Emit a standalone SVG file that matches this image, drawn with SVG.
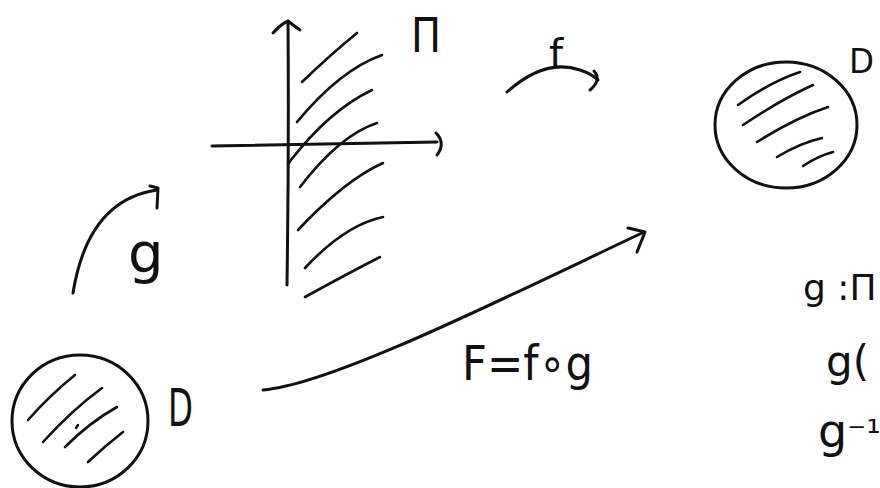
<svg xmlns="http://www.w3.org/2000/svg" width="880" height="488" viewBox="0 0 880 488">
<style>
.ink{fill:none;stroke:#111;stroke-width:3;stroke-linecap:round;stroke-linejoin:round}
.hatch{fill:none;stroke:#111;stroke-width:2.6;stroke-linecap:round}
.lbl{font-family:"DejaVu Sans","Liberation Sans",sans-serif;fill:#111}
</style>
<rect width="880" height="488" fill="#fff"/>
<g id="plane">
  <path class="ink" d="M288,22 Q289,150 287,285"/>
  <path class="ink" d="M273,33 Q281,24 288,21 Q294,26 300,30"/>
  <path class="ink" d="M212,146 L437,142"/>
  <path class="ink" d="M436,133 Q446,143 437,155"/>
  <path class="hatch" d="M302,82 Q330,55 357,33"/>
  <path class="hatch" d="M297,122 Q340,70 382,55"/>
  <path class="hatch" d="M288,164 L291,160 Q330,110 372,90"/>
  <path class="hatch" d="M300,187 Q340,135 377,123"/>
  <path class="hatch" d="M298,230 Q345,180 383,163"/>
  <path class="hatch" d="M305,268 Q345,225 383,217"/>
  <path class="hatch" d="M305,297 Q345,275 380,257"/>
  <text class="lbl" x="411" y="52" font-size="48" textLength="30" lengthAdjust="spacingAndGlyphs">Π</text>
</g>
<g id="diskD">
  <ellipse class="ink" cx="786" cy="125" rx="71" ry="63"/>
  <path class="hatch" d="M738,105 Q770,82 800,72"/>
  <path class="hatch" d="M743,125 Q780,100 813,85"/>
  <path class="hatch" d="M757,142 Q795,118 828,107"/>
  <path class="hatch" d="M777,157 Q800,143 822,138"/>
  <path class="hatch" d="M803,166 Q818,156 833,152"/>
  <text class="lbl" x="849" y="73" font-size="34" textLength="25" lengthAdjust="spacingAndGlyphs">D</text>
</g>
<g id="diskB">
  <ellipse class="ink" cx="80" cy="421" rx="68" ry="66"/>
  <path class="hatch" d="M28,420 Q50,395 75,375"/>
  <path class="hatch" d="M43,442 Q72,410 102,388"/>
  <path class="hatch" d="M65,447 Q90,422 117,407"/>
  <path class="hatch" d="M88,462 Q105,446 123,432"/>
  <path class="hatch" d="M76,428 L78,425"/>
  <text class="lbl" x="168" y="426" font-size="52" textLength="25" lengthAdjust="spacingAndGlyphs">D</text>
</g>
<g id="connectors">
  <path class="ink" d="M507,92 Q545,58 580,70 Q592,74 598,80"/>
  <path class="ink" d="M594,71 Q602,80 590,90"/>
  <text class="lbl" x="556" y="68" font-size="40" text-anchor="middle">f</text>
  <path class="ink" d="M73,293 Q88,200 157,190"/>
  <path class="ink" d="M150,186 L158,188 L157,208"/>
  <text class="lbl" x="128" y="272" font-size="56">g</text>
  <path class="ink" d="M263,390 C330,385 500,300 642,233"/>
  <path class="ink" d="M628,228 L645,232 L637,252"/>
  <text class="lbl" x="462" y="380" font-size="48" textLength="131" lengthAdjust="spacingAndGlyphs">F=f∘g</text>
</g>
<g id="notes">
  <text class="lbl" x="803" y="300" font-size="36">g :Π</text>
  <text class="lbl" x="826" y="376" font-size="42">g(</text>
  <text class="lbl" x="818" y="447" font-size="46">g<tspan font-size="36" dy="-2">⁻¹</tspan></text>
</g>
</svg>
